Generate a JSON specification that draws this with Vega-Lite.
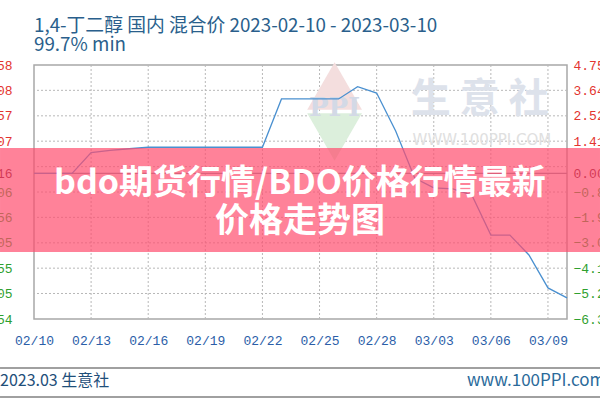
{
  "$schema": "https://vega.github.io/schema/vega-lite/v6.json",
  "autosize": "none",
  "width": 533,
  "height": 254,
  "padding": {"left": 34, "top": 65, "right": 33, "bottom": 81},
  "background": "white",
  "config": {
    "view": {"stroke": "#a8a8a8", "strokeWidth": 1.5}
  },
  "title": {
    "text": "1,4-丁二醇 国内 混合价 2023-02-10 - 2023-03-10",
    "subtitle": "99.7% min",
    "anchor": "start",
    "frame": "group",
    "font": "Noto Sans CJK SC",
    "fontSize": 18.8,
    "fontWeight": "normal",
    "color": "#2a5f8c",
    "subtitleFont": "Noto Sans CJK SC",
    "subtitleFontSize": 18.8,
    "subtitleColor": "#2a5f8c",
    "subtitlePadding": 0,
    "offset": 4
  },
  "datasets": {
    "xgrid": [
      {"date": "2023-02-13T00:00:00"},
      {"date": "2023-02-16T00:00:00"},
      {"date": "2023-02-19T00:00:00"},
      {"date": "2023-02-22T00:00:00"},
      {"date": "2023-02-25T00:00:00"},
      {"date": "2023-02-28T00:00:00"},
      {"date": "2023-03-03T00:00:00"},
      {"date": "2023-03-06T00:00:00"},
      {"date": "2023-03-09T00:00:00"}
    ],
    "ygrid": [
      {"price": 12805},
      {"price": 12955},
      {"price": 13105},
      {"price": 13256},
      {"price": 13406},
      {"price": 13556},
      {"price": 13707},
      {"price": 13857},
      {"price": 14008}
    ]
  },
  "data": {
    "values": [
      {"date": "2023-02-10T00:00:00", "price": 13516},
      {"date": "2023-02-11T00:00:00", "price": 13516},
      {"date": "2023-02-12T00:00:00", "price": 13516},
      {"date": "2023-02-13T00:00:00", "price": 13639},
      {"date": "2023-02-14T00:00:00", "price": 13652},
      {"date": "2023-02-15T00:00:00", "price": 13662},
      {"date": "2023-02-16T00:00:00", "price": 13671},
      {"date": "2023-02-17T00:00:00", "price": 13671},
      {"date": "2023-02-18T00:00:00", "price": 13671},
      {"date": "2023-02-19T00:00:00", "price": 13671},
      {"date": "2023-02-20T00:00:00", "price": 13671},
      {"date": "2023-02-21T00:00:00", "price": 13671},
      {"date": "2023-02-22T00:00:00", "price": 13671},
      {"date": "2023-02-23T00:00:00", "price": 13957},
      {"date": "2023-02-24T00:00:00", "price": 13957},
      {"date": "2023-02-25T00:00:00", "price": 13957},
      {"date": "2023-02-26T00:00:00", "price": 13957},
      {"date": "2023-02-27T00:00:00", "price": 14030},
      {"date": "2023-02-28T00:00:00", "price": 13992},
      {"date": "2023-03-01T00:00:00", "price": 13767},
      {"date": "2023-03-02T00:00:00", "price": 13489},
      {"date": "2023-03-03T00:00:00", "price": 13430},
      {"date": "2023-03-04T00:00:00", "price": 13424},
      {"date": "2023-03-05T00:00:00", "price": 13388},
      {"date": "2023-03-06T00:00:00", "price": 13151},
      {"date": "2023-03-07T00:00:00", "price": 13151},
      {"date": "2023-03-08T00:00:00", "price": 13033},
      {"date": "2023-03-09T00:00:00", "price": 12838},
      {"date": "2023-03-10T00:00:00", "price": 12779}
    ]
  },
  "resolve": {"axis": {"y": "independent"}},
  "layer": [
    {
      "mark": {"type": "line", "strokeOpacity": 0},
      "encoding": {
        "x": {
          "field": "date",
          "type": "temporal",
          "scale": {"domain": [{"year": 2023, "month": 2, "date": 10}, {"year": 2023, "month": 3, "date": 10}]},
          "axis": {
            "title": null,
            "values": [
              {"year": 2023, "month": 2, "date": 10},
              {"year": 2023, "month": 2, "date": 13},
              {"year": 2023, "month": 2, "date": 16},
              {"year": 2023, "month": 2, "date": 19},
              {"year": 2023, "month": 2, "date": 22},
              {"year": 2023, "month": 2, "date": 25},
              {"year": 2023, "month": 2, "date": 28},
              {"year": 2023, "month": 3, "date": 3},
              {"year": 2023, "month": 3, "date": 6},
              {"year": 2023, "month": 3, "date": 9}
            ],
            "format": "%m/%d",
            "labelFont": "Liberation Mono",
            "labelFontSize": 13,
            "labelColor": "#2b5ea8",
            "labelAngle": 0,
            "labelPadding": 15,
            "labelFlush": false,
            "labelOverlap": false,
            "ticks": false,
            "domain": false,
            "grid": false
          }
        },
        "y": {
          "field": "price",
          "type": "quantitative",
          "scale": {"domain": [12654, 14158], "zero": false, "nice": false},
          "axis": {
            "title": null,
            "orient": "left",
            "values": [12654, 12805, 12955, 13105, 13256, 13406, 13516, 13556, 13707, 13857, 14008, 14158],
            "format": "d",
            "labelExpr": "datum.value == 13556 ? '' : datum.label",
            "labelFont": "Liberation Mono",
            "labelFontSize": 13,
            "labelColor": {"condition": [{"test": "datum.value == 13516", "value": "#6a0a20"}, {"test": "datum.value > 13516", "value": "#e3342f"}], "value": "#2ea02e"},
            "labelPadding": 22,
            "labelOverlap": false,
            "labelFlush": false,
            "ticks": false,
            "domain": false,
            "grid": false
          }
        }
      }
    },
    {
      "data": {"name": "xgrid"},
      "mark": {"type": "rule", "color": "#b8b8b8", "strokeWidth": 1, "strokeDash": [2, 2]},
      "encoding": {
        "x": {"field": "date", "type": "temporal"}
      }
    },
    {
      "data": {"name": "ygrid"},
      "mark": {"type": "rule", "color": "#b8b8b8", "strokeWidth": 1, "strokeDash": [2, 2]},
      "encoding": {
        "y": {"field": "price", "type": "quantitative", "axis": null}
      }
    },
    {
      "data": {"values": [{}]},
      "mark": {"type": "rule", "color": "#8c8c9c", "strokeWidth": 1.3},
      "encoding": {
        "y": {
          "datum": 13516,
          "type": "quantitative",
          "axis": {
            "title": null,
            "orient": "right",
            "values": [12654, 12805, 12955, 13105, 13256, 13406, 13516, 13556, 13707, 13857, 14008, 14158],
            "labelExpr": "datum.value == 13556 ? '' : format((datum.value / 13516 - 1) * 100, '.2f')",
            "labelFont": "Liberation Mono",
            "labelFontSize": 13,
            "labelColor": {"condition": [{"test": "datum.value == 13516", "value": "#6a0a20"}, {"test": "datum.value > 13516", "value": "#e3342f"}], "value": "#2ea02e"},
            "labelPadding": 6,
            "labelOverlap": false,
            "labelFlush": false,
            "ticks": false,
            "domain": false,
            "grid": false
          }
        }
      }
    },
    {
      "data": {"values": [{}]},
      "mark": {"type": "point", "shape": "triangle-up", "filled": true, "color": "#f4dede", "opacity": 1, "size": 3000},
      "encoding": {
        "x": {"datum": {"year": 2023, "month": 2, "date": 25, "hours": 19, "minutes": 0}, "type": "temporal"},
        "y": {"datum": 14034, "type": "quantitative", "axis": null}
      }
    },
    {
      "data": {"values": [{}]},
      "mark": {"type": "point", "shape": "triangle-down", "filled": true, "color": "#dcefdc", "opacity": 1, "size": 3000},
      "encoding": {
        "x": {"datum": {"year": 2023, "month": 2, "date": 25, "hours": 19, "minutes": 0}, "type": "temporal"},
        "y": {"datum": 13732, "type": "quantitative", "axis": null}
      }
    },
    {
      "data": {"values": [{}]},
      "mark": {"type": "text", "text": "PPI", "font": "DejaVu Serif", "fontSize": 26, "fontWeight": "bold", "color": "#d3d9e6", "align": "center", "baseline": "middle"},
      "encoding": {
        "x": {"datum": {"year": 2023, "month": 2, "date": 25, "hours": 19, "minutes": 0}, "type": "temporal"},
        "y": {"datum": 13903, "type": "quantitative", "axis": null}
      }
    },
    {
      "data": {"values": [{}]},
      "mark": {"type": "text", "text": "生  意  社", "font": "Noto Sans CJK SC", "fontSize": 40, "fontWeight": "bold", "color": "#dde2eb", "align": "center", "baseline": "middle"},
      "encoding": {
        "x": {"datum": {"year": 2023, "month": 3, "date": 5, "hours": 10, "minutes": 0}, "type": "temporal"},
        "y": {"datum": 13951, "type": "quantitative", "axis": null}
      }
    },
    {
      "data": {"values": [{}]},
      "mark": {"type": "text", "text": "WWW.100PPI.COM", "font": "DejaVu Sans", "fontSize": 15, "color": "#e0e0e0", "align": "center", "baseline": "middle"},
      "encoding": {
        "x": {"datum": {"year": 2023, "month": 3, "date": 5, "hours": 12, "minutes": 43}, "type": "temporal"},
        "y": {"datum": 13714, "type": "quantitative", "axis": null}
      }
    },
    {
      "mark": {"type": "line", "color": "#4a90d0", "strokeWidth": 1.3},
      "encoding": {
        "x": {"field": "date", "type": "temporal"},
        "y": {"field": "price", "type": "quantitative", "axis": null}
      }
    },
    {
      "data": {"values": [{}]},
      "mark": {"type": "rect", "color": "#ff4d6d", "opacity": 0.7},
      "encoding": {
        "x": {"datum": {"year": 2023, "month": 2, "date": 8, "hours": 5, "minutes": 9}, "type": "temporal"},
        "x2": {"datum": {"year": 2023, "month": 3, "date": 11, "hours": 17, "minutes": 36}},
        "y": {"datum": 13667, "type": "quantitative", "axis": null},
        "y2": {"datum": 13051}
      }
    },
    {
      "data": {"values": [{}]},
      "mark": {"type": "text", "text": ["bdo期货行情/BDO价格行情最新", "价格走势图"], "lineHeight": 38, "font": "Noto Sans CJK SC", "fontSize": 34, "fontWeight": "bold", "color": "white", "align": "center", "baseline": "middle"},
      "encoding": {
        "x": {"datum": {"year": 2023, "month": 2, "date": 23, "hours": 23, "minutes": 17}, "type": "temporal"},
        "y": {"datum": 13453, "type": "quantitative", "axis": null}
      }
    },
    {
      "data": {"values": [{}]},
      "mark": {"type": "rule", "color": "#a0a0a0", "strokeWidth": 2},
      "encoding": {
        "x": {"datum": {"year": 2023, "month": 2, "date": 8, "hours": 5, "minutes": 9}, "type": "temporal"},
        "x2": {"datum": {"year": 2023, "month": 3, "date": 11, "hours": 17, "minutes": 36}},
        "y": {"datum": 12364, "type": "quantitative", "axis": null}
      }
    },
    {
      "data": {"values": [{}]},
      "mark": {"type": "rule", "color": "#a0a0a0", "strokeWidth": 2},
      "encoding": {
        "x": {"datum": {"year": 2023, "month": 2, "date": 8, "hours": 5, "minutes": 9}, "type": "temporal"},
        "x2": {"datum": {"year": 2023, "month": 3, "date": 11, "hours": 17, "minutes": 36}},
        "y": {"datum": 12192, "type": "quantitative", "axis": null}
      }
    },
    {
      "data": {"values": [{}]},
      "mark": {"type": "text", "text": "2023.03 生意社", "font": "Noto Sans CJK SC", "fontSize": 16, "color": "#1f4f7a", "align": "left", "baseline": "middle"},
      "encoding": {
        "x": {"datum": {"year": 2023, "month": 2, "date": 8, "hours": 5, "minutes": 9}, "type": "temporal"},
        "y": {"datum": 12287, "type": "quantitative", "axis": null}
      }
    },
    {
      "data": {"values": [{}]},
      "mark": {"type": "text", "text": "www.100PPI.com", "font": "Noto Sans CJK SC", "fontSize": 17, "color": "#2a6a9a", "align": "left", "baseline": "middle"},
      "encoding": {
        "x": {"datum": {"year": 2023, "month": 3, "date": 4, "hours": 17, "minutes": 46}, "type": "temporal"},
        "y": {"datum": 12287, "type": "quantitative", "axis": null}
      }
    }
  ]
}
